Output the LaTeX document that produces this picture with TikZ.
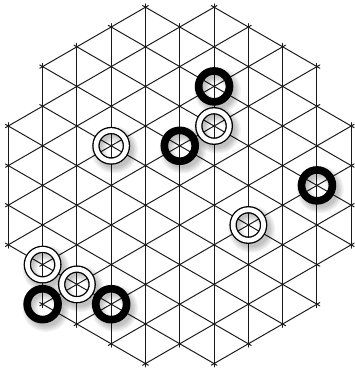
\documentclass[tikz,border=0pt]{standalone}
\usepackage{tikz}
\usetikzlibrary{positioning}
\definecolor{boardline}{HTML}{1A1A1A}
\tikzset{
  gridln/.style={draw=boardline, line width=0.7pt, line cap=round,
                 shorten <=-2.4pt, shorten >=-2.4pt},
  spot/.style={fill=boardline},
  ringshade/.style={draw=black, opacity=0.05},
  blackring/.style={circle, draw=black, line width=5.5pt,
                    minimum size=7.8mm, inner sep=0pt},
  whitering/.style={circle, draw=black, double=white, double distance=3.4pt,
                    line width=0.95pt, minimum size=7.7mm, inner sep=0pt},
}

\begin{document}
\begin{tikzpicture}
  \fill[white] (-4.540,-4.687) rectangle (4.424,4.682);
  \useasboundingbox (-4.540,-4.687) rectangle (4.424,4.682);

  % board lines in the three directions
  \foreach \r in {0,60,120}{
    \begin{scope}[rotate=\r]
      \foreach \c/\h in {-5/1.5,-4/3,-3/3.5,-2/4,-1/4.5,0/4,1/4.5,2/4,3/3.5,4/3,5/1.5}
        \draw[gridln] (\c*0.866,-\h) -- (\c*0.866,\h);
    \end{scope}
  }
  \foreach \c/\h/\n in {-5/1.5/3,-4/3/6,-3/3.5/7,-2/4/8,-1/4.5/9,0/4/8,1/4.5/9,2/4/8,3/3.5/7,4/3/6,5/1.5/3}
    \foreach \k in {0,...,\n}
      \fill[spot] (\c*0.866,-\h+\k) circle (0.8pt);

  % rings
  \coordinate (b1) at (0.866,2.5);
  \coordinate (b2) at (0,1);
  \coordinate (b3) at (3.464,0);
  \coordinate (b4) at (-3.464,-3);
  \coordinate (b5) at (-1.732,-3);
  \coordinate (w1) at (0.866,1.5);
  \coordinate (w2) at (-1.732,1);
  \coordinate (w3) at (1.732,-1);
  \coordinate (w4) at (-3.464,-2);
  \coordinate (w5) at (-2.598,-2.5);

  \foreach \p in {b1,b2,b3,b4,b5,w1,w2,w3,w4,w5}
    \foreach \w in {3,5,7,9,11}
      \draw[ringshade, line width=\w pt] ([xshift=2.4pt,yshift=-3pt]\p) circle (4.0mm);

  \foreach \p in {b1,b2,b3,b4,b5}
    \node[blackring] (ring\p) at (\p) {};
  \foreach \p in {w1,w2,w3,w4,w5}
    \node[whitering] (ring\p) at (\p) {};
\end{tikzpicture}
\end{document}
